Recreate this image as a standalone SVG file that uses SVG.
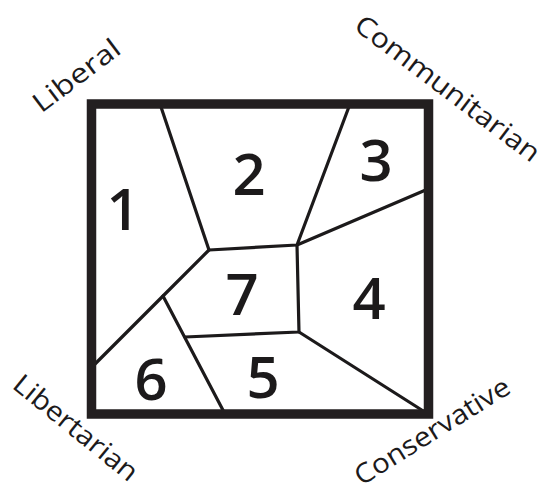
<svg xmlns="http://www.w3.org/2000/svg" width="540" height="492" viewBox="0 0 540 492">
<style>
.edge{stroke:#1c1a1b;stroke-width:3.2;fill:none;stroke-linecap:round;stroke-linejoin:round}
.frame{stroke:#231f20;stroke-width:9.5;fill:none}
.num{font-family:"Open Sans","DejaVu Sans",sans-serif;font-weight:600;font-size:58px;fill:#1c1a1b;text-anchor:middle}
.lab{font-family:"Open Sans","DejaVu Sans",sans-serif;font-weight:500;font-size:27px;fill:#1c1a1b;text-anchor:middle}
</style>
<rect width="540" height="492" fill="#ffffff"/>
<g id="connectors">
<polyline class="edge" points="160,104 209,250 297,245 350,104"/>
<line class="edge" x1="297" y1="245" x2="428" y2="189"/>
<polyline class="edge" points="209,250 163,296 91,368"/>
<line class="edge" x1="163" y1="296" x2="225" y2="414"/>
<polyline class="edge" points="185,337 299,332 297,245"/>
<line class="edge" x1="299" y1="332" x2="428" y2="414"/>
</g>
<g id="frame"><rect class="frame" x="91.5" y="104" width="337" height="310"/></g>
<g id="region1"><text class="num" x="123" y="230">1</text></g>
<g id="region2"><text class="num" x="249" y="195">2</text></g>
<g id="region3"><text class="num" x="376" y="181">3</text></g>
<g id="region4"><text class="num" x="369" y="319">4</text></g>
<g id="region5"><text class="num" x="263" y="398">5</text></g>
<g id="region6"><text class="num" x="151" y="400">6</text></g>
<g id="region7"><text class="num" x="242" y="315">7</text></g>
<g id="label-liberal"><text class="lab" transform="translate(82,83) rotate(-37)" textLength="102" lengthAdjust="spacingAndGlyphs">Liberal</text></g>
<g id="label-communitarian"><text class="lab" transform="translate(442,96) rotate(37)" textLength="224" lengthAdjust="spacingAndGlyphs">Communitarian</text></g>
<g id="label-libertarian"><text class="lab" transform="translate(70,435) rotate(39)" textLength="152" lengthAdjust="spacingAndGlyphs">Libertarian</text></g>
<g id="label-conservative"><text class="lab" transform="translate(437,439) rotate(-32)" textLength="178" lengthAdjust="spacingAndGlyphs">Conservative</text></g>
</svg>
